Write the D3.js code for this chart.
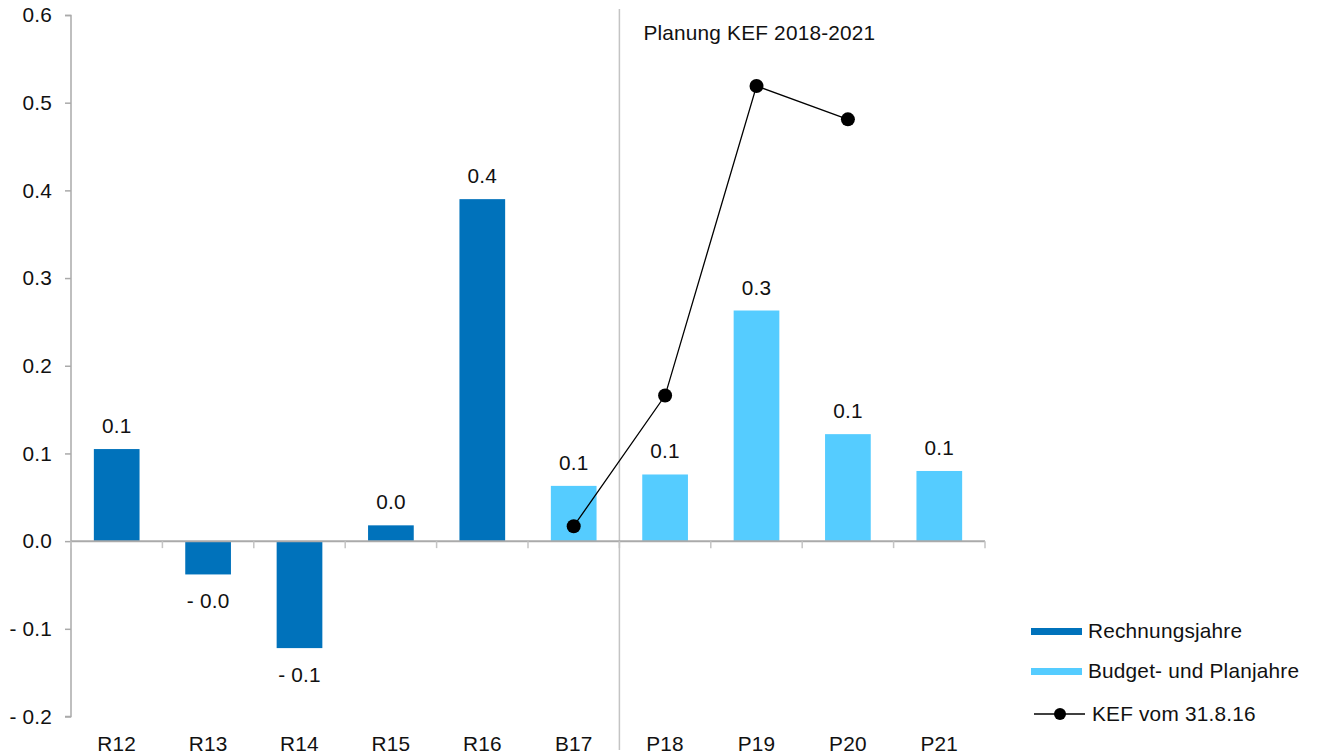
<!DOCTYPE html>
<meta charset="utf-8">
<style>
body { margin: 0; background: #fff; }
text { font-family: "Liberation Sans", Arial, sans-serif; fill: #111; letter-spacing: 0.2px; }
</style>
<body>
<script src="https://d3js.org/d3.v7.min.js"></script>
<script>

// categories and values
var categories = ["R12", "R13", "R14", "R15", "R16", "B17", "P18", "P19", "P20", "P21"];
var barValues = [0.105, -0.038, -0.122, 0.018, 0.39, 0.063, 0.076, 0.263, 0.122, 0.080];
var barSeries = ["R", "R", "R", "R", "R", "B", "B", "B", "B", "B"];
var kefCats = ["B17", "P18", "P19", "P20"];
var kefValues = [0.017, 0.166, 0.519, 0.481];
var yTicks = [-0.2, -0.1, 0, 0.1, 0.2, 0.3, 0.4, 0.5, 0.6];
var legendLabels = ["Rechnungsjahre", "Budget- und Planjahre", "KEF vom 31.8.16"];
var planLabel = "Planung KEF 2018-2021";

var darkBlue = "#0072bb", lightBlue = "#55ccff", axisGrey = "#aaaaaa";
var fs = 20.8;

var svg = d3.select("body").append("svg")
    .attr("width", 1317)
    .attr("height", 756);

// set the ranges
var x = d3.scaleBand().domain(categories).range([71, 985]).paddingInner(0.5).paddingOuter(0.25);
var xb = d3.scaleBand().domain(categories).range([71, 985]);
var y = d3.scaleLinear().domain([-0.2, 0.6]).range([716.5, 15]);

function fmt(v) {
  var s = Math.abs(v).toFixed(1);
  return v < 0 ? "- " + s : s;
}

// y axis
var yAxis = svg.append("g")
    .attr("transform", "translate(71,0)")
    .call(d3.axisLeft(y).tickValues(yTicks).tickSize(6).tickPadding(13).tickFormat(fmt));
yAxis.selectAll("path, line").attr("stroke", axisGrey).attr("stroke-width", 1.5);
yAxis.select(".domain").attr("d", "M-6,15.5H0V716.5H-6");
yAxis.selectAll("text").attr("font-size", fs).attr("fill", "#111")
    .style("font-family", "Liberation Sans, Arial, sans-serif");

// separator line
svg.append("line")
    .attr("x1", xb("P18")).attr("x2", xb("P18"))
    .attr("y1", 9).attr("y2", 750)
    .attr("stroke", "#c4c4c4").attr("stroke-width", 1.5);

svg.append("text")
    .attr("x", xb("P18") + 24).attr("y", 40)
    .attr("font-size", fs)
    .text(planLabel);

// bars
svg.selectAll(".bar").data(barValues).enter()
  .append("rect")
    .attr("x", function(d, i) { return x(categories[i]); })
    .attr("width", x.bandwidth())
    .attr("y", function(d) { return y(Math.max(0, d)); })
    .attr("height", function(d) { return Math.abs(y(d) - y(0)); })
    .attr("fill", function(d, i) { return barSeries[i] == "R" ? darkBlue : lightBlue; });

// bar labels
svg.selectAll(".lbl").data(barValues).enter()
  .append("text")
    .attr("x", function(d, i) { return x(categories[i]) + x.bandwidth() / 2; })
    .attr("y", function(d) { return d >= 0 ? y(d) - 16 : y(d) + 34; })
    .attr("text-anchor", "middle")
    .attr("font-size", fs)
    .text(fmt);

// x axis at zero
var xAxisG = svg.append("g").attr("transform", "translate(0," + y(0) + ")");
xAxisG.append("line").attr("x1", 71).attr("x2", 985).attr("stroke", axisGrey).attr("stroke-width", 2);
xAxisG.selectAll(".tk").data(categories.concat(["end"])).enter()
  .append("line")
    .attr("x1", function(d, i) { return 71 + i * xb.bandwidth(); })
    .attr("x2", function(d, i) { return 71 + i * xb.bandwidth(); })
    .attr("y1", 0).attr("y2", 7)
    .attr("stroke", "#c4c4c4").attr("stroke-width", 1.5);

// category labels at bottom
svg.selectAll(".cat").data(categories).enter()
  .append("text")
    .attr("x", function(d) { return xb(d) + xb.bandwidth() / 2; })
    .attr("y", 751)
    .attr("text-anchor", "middle")
    .attr("font-size", fs)
    .text(function(d) { return d; });

// KEF line
var kefData = kefCats.map(function(c, i) { return {c: c, v: kefValues[i]}; });
var line = d3.line()
    .x(function(d) { return xb(d.c) + xb.bandwidth() / 2; })
    .y(function(d) { return y(d.v); });
svg.append("path").datum(kefData)
    .attr("d", line).attr("fill", "none").attr("stroke", "#000").attr("stroke-width", 1.3);
svg.selectAll(".dot").data(kefData).enter()
  .append("circle")
    .attr("cx", function(d) { return xb(d.c) + xb.bandwidth() / 2; })
    .attr("cy", function(d) { return y(d.v); })
    .attr("r", 7).attr("fill", "#000");

// legend
var lg = svg.append("g");
lg.append("rect").attr("x", 1031).attr("y", 628).attr("width", 51).attr("height", 7).attr("fill", darkBlue);
lg.append("rect").attr("x", 1031).attr("y", 668).attr("width", 51).attr("height", 7).attr("fill", lightBlue);
lg.append("line").attr("x1", 1034).attr("x2", 1085).attr("y1", 714).attr("y2", 714).attr("stroke", "#000").attr("stroke-width", 1.3);
lg.append("circle").attr("cx", 1060).attr("cy", 714).attr("r", 6).attr("fill", "#000");
lg.selectAll("text").data(legendLabels).enter()
  .append("text")
    .attr("x", function(d, i) { return i == 2 ? 1092 : 1088; })
    .attr("y", function(d, i) { return [638, 678, 721][i]; })
    .attr("font-size", fs)
    .text(function(d) { return d; });

</script>
</body>
